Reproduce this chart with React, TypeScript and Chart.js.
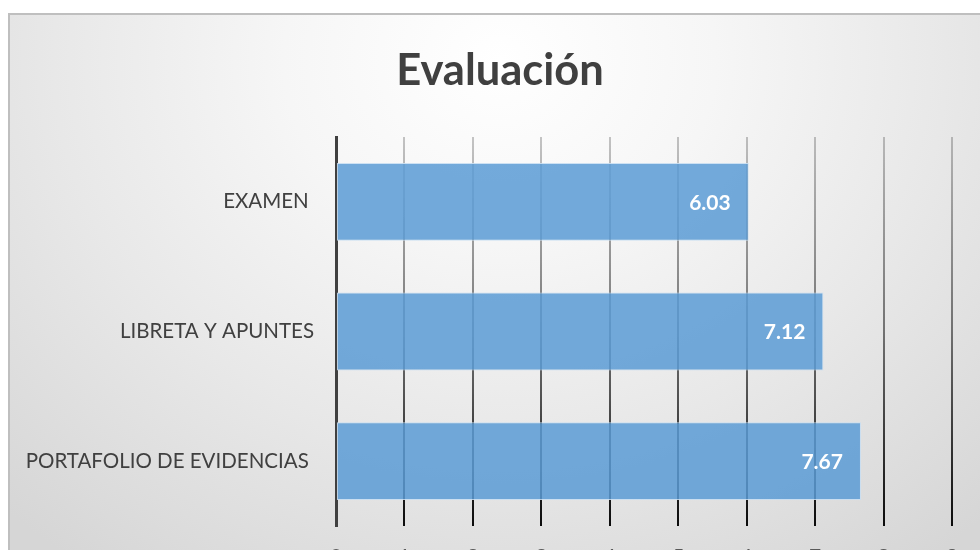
import React, { useEffect, useRef } from "react";
import { Chart, registerables } from "chart.js";

Chart.register(...registerables);

const chartTitle = "Evaluación";
const categories = ["EXAMEN ", "LIBRETA Y APUNTES", "PORTAFOLIO DE EVIDENCIAS "];
const scores = [6.03, 7.12, 7.67];
const axisMin = 0;
const axisMax = 9;
const axisStep = 1;

const FONT = "Lato, 'Open Sans', sans-serif";

const valueLabels = {
  id: "valueLabels",
  afterDatasetsDraw(chart: any) {
    const ctx = chart.ctx;
    const meta = chart.getDatasetMeta(0);
    ctx.save();
    ctx.fillStyle = "#ffffff";
    ctx.font = `bold 21px ${FONT}`;
    ctx.textAlign = "right";
    ctx.textBaseline = "middle";
    meta.data.forEach((bar: any, i: number) => {
      const v = chart.data.datasets[0].data[i] as number;
      ctx.fillText(v.toFixed(2), bar.x - 18, bar.y + 1);
    });
    ctx.restore();
  },
};

const centeredTitle = {
  id: "centeredTitle",
  afterDraw(chart: any) {
    const ctx = chart.ctx;
    ctx.save();
    ctx.fillStyle = "#404040";
    ctx.font = `bold 43.5px ${FONT}`;
    ctx.textAlign = "center";
    ctx.textBaseline = "alphabetic";
    ctx.fillText(chartTitle, chart.width / 2, 70);
    ctx.restore();
  },
};

export default function App() {
  const ref = useRef<HTMLCanvasElement | null>(null);

  useEffect(() => {
    if (!ref.current) return;
    const chart = new Chart(ref.current, {
      type: "bar",
      data: {
        labels: categories,
        datasets: [
          {
            data: scores,
            backgroundColor: "rgba(91,155,213,0.85)",
            borderColor: "rgba(200,222,242,0.9)",
            borderWidth: 1,
            borderSkipped: false,
            barPercentage: 0.6,
            categoryPercentage: 1,
          },
        ],
      },
      options: {
        indexAxis: "y",
        animation: false,
        responsive: false,
        devicePixelRatio: 1,
        layout: { padding: { left: 0, right: 38, top: 122, bottom: 0 } },
        plugins: {
          legend: { display: false },
          tooltip: { enabled: false },
          title: { display: false },
        },
        scales: {
          x: {
            min: axisMin,
            max: axisMax,
            ticks: {
              stepSize: axisStep,
              color: "#595959",
              font: { family: FONT, size: 21 },
              padding: 19,
            },
            border: { display: false },
            grid: {
              drawTicks: false,
              lineWidth: 2,
              color: (c: any) => {
                const ch = c.chart;
                const area = ch.chartArea;
                if (!area) return "rgba(0,0,0,0.4)";
                const g = ch.ctx.createLinearGradient(0, area.top, 0, area.bottom);
                g.addColorStop(0, "rgba(0,0,0,0.22)");
                g.addColorStop(0.5, "rgba(0,0,0,0.5)");
                g.addColorStop(1, "rgba(0,0,0,0.95)");
                return g;
              },
            },
            afterFit: (s: any) => {
              s.height = 50;
            },
          },
          y: {
            ticks: {
              color: "#404040",
              font: { family: FONT, size: 20.5 },
              padding: 22,
            },
            border: { display: true, color: "#404040", width: 3 },
            grid: { display: false, drawTicks: false },
            afterFit: (s: any) => {
              s.width = 326;
            },
          },
        },
      },
      plugins: [valueLabels, centeredTitle],
    });
    return () => chart.destroy();
  }, []);

  return (
    <div
      style={{
        position: "fixed",
        left: 0,
        top: 0,
        width: 980,
        height: 550,
        overflow: "hidden",
        background: "#ffffff",
      }}
    >
      <div
        style={{
          position: "absolute",
          left: 8,
          top: 13,
          width: 980,
          height: 561,
          borderTop: "2px solid #bfbfbf",
          borderLeft: "2px solid #bfbfbf",
          background:
            "radial-gradient(ellipse 720px 620px at 50% 8%, #ffffff 0%, #f6f6f6 30%, #e8e8e8 62%, #d6d6d6 100%)",
        }}
      >
        <canvas ref={ref} width={980} height={561} style={{ display: "block", width: 980, height: 561 }} />
      </div>
    </div>
  );
}
